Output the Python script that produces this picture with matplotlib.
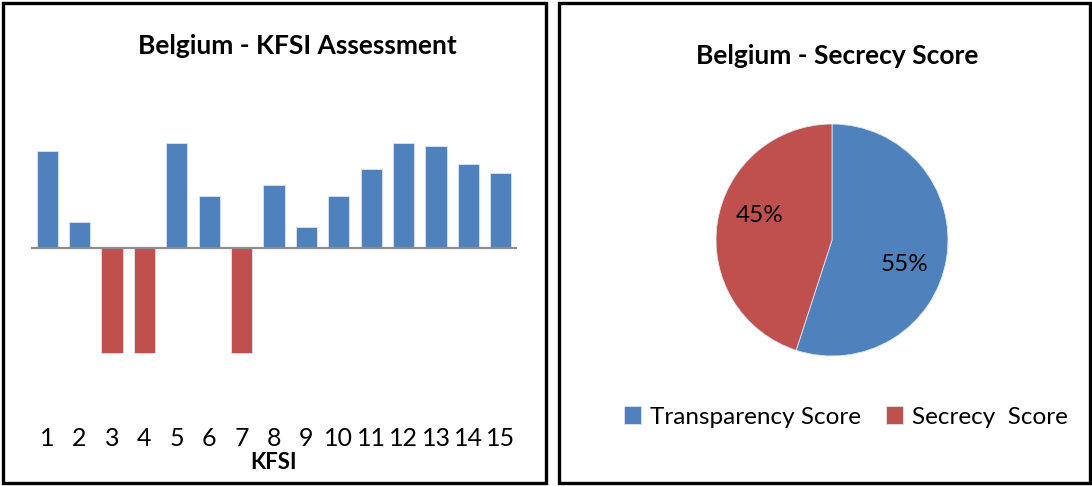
"""Belgium KFSI assessment bars + secrecy score pie, side by side in boxed panels."""

import matplotlib

matplotlib.use("Agg")

import numpy as np
import matplotlib.pyplot as plt
from matplotlib.patches import Rectangle

plt.rcParams["font.family"] = ["Lato", "DejaVu Sans"]

# KFSI transparency values (0 transparency drawn as -100)
kfsi = list(range(1, 16))
kfsi_values = [92, 25, -100, -100, 100, 50, -100, 60, 20, 50, 75, 100, 97, 80, 71]

pie_labels = ["Transparency Score", "Secrecy  Score"]
pie_values = [55, 45]

BLUE = "#4F81BD"
RED = "#C0504D"

W, H = 1092, 486
fig = plt.figure(figsize=(W / 100, H / 100), dpi=100)


def px_box(x0, y0, x1, y1):
    """Pixel box (top-left origin) -> figure-fraction [left, bottom, width, height]."""
    return [x0 / W, 1 - y1 / H, (x1 - x0) / W, (y1 - y0) / H]


# panel frames
for x0, x1 in [(3, 546), (559, 1090)]:
    l, b, w, h = px_box(x0, 3, x1, 483)
    fig.add_artist(Rectangle((l, b), w, h, transform=fig.transFigure,
                             fill=False, edgecolor="black", linewidth=2.4))

# ---- left: bar chart
ax = fig.add_axes(px_box(31, 120, 517, 426))
colors = [BLUE if v > 0 else RED for v in kfsi_values]
ax.bar(kfsi, kfsi_values, width=0.66, color=colors, edgecolor="#dce6f2", linewidth=0.6)
ax.axhline(0, color="#8c8c8c", linewidth=1.6)
ax.set_xlim(0.5, 15.5)
ax.set_ylim(-169.5, 121.9)
ax.set_xticks(kfsi)
ax.set_xticklabels([str(k) for k in kfsi], fontsize=18)
ax.tick_params(axis="x", length=0, pad=1)
ax.set_yticks([])
for s in ax.spines.values():
    s.set_visible(False)
ax.set_xlabel("KFSI", fontsize=16, fontweight="bold", labelpad=1)
fig.text(297 / W, 1 - 46 / H, "Belgium - KFSI Assessment", ha="center", va="center",
         fontsize=19, fontweight="bold")

# ---- right: pie chart
r = 116
pax = fig.add_axes(px_box(832 - 1.2 * r, 240 - 1.2 * r, 832 + 1.2 * r, 240 + 1.2 * r))
wedges, _, autotexts = pax.pie(pie_values, colors=[BLUE, RED], startangle=90,
                               counterclock=False, autopct="%d%%", pctdistance=0.66,
                               wedgeprops=dict(edgecolor="#dce6f2", linewidth=0.6),
                               textprops=dict(fontsize=17.5))
# nudge the percent labels a little clockwise, as the original places them
for wdg, t in zip(wedges, autotexts):
    mid = np.deg2rad((wdg.theta1 + wdg.theta2) / 2 - 10)
    t.set_position((0.66 * np.cos(mid), 0.66 * np.sin(mid)))
pax.set_xlim(-1.2, 1.2)
pax.set_ylim(-1.2, 1.2)
pax.set_aspect("equal")
fig.text(837 / W, 1 - 56 / H, "Belgium - Secrecy Score", ha="center", va="center",
         fontsize=19, fontweight="bold")
fig.legend(wedges, pie_labels, loc="center", bbox_to_anchor=(846 / W, 1 - 417 / H),
           ncol=2, frameon=False, fontsize=17.5, handlelength=0.7, handleheight=0.7,
           handletextpad=0.4, columnspacing=1.0)

fig.savefig("out.png", dpi=100)
